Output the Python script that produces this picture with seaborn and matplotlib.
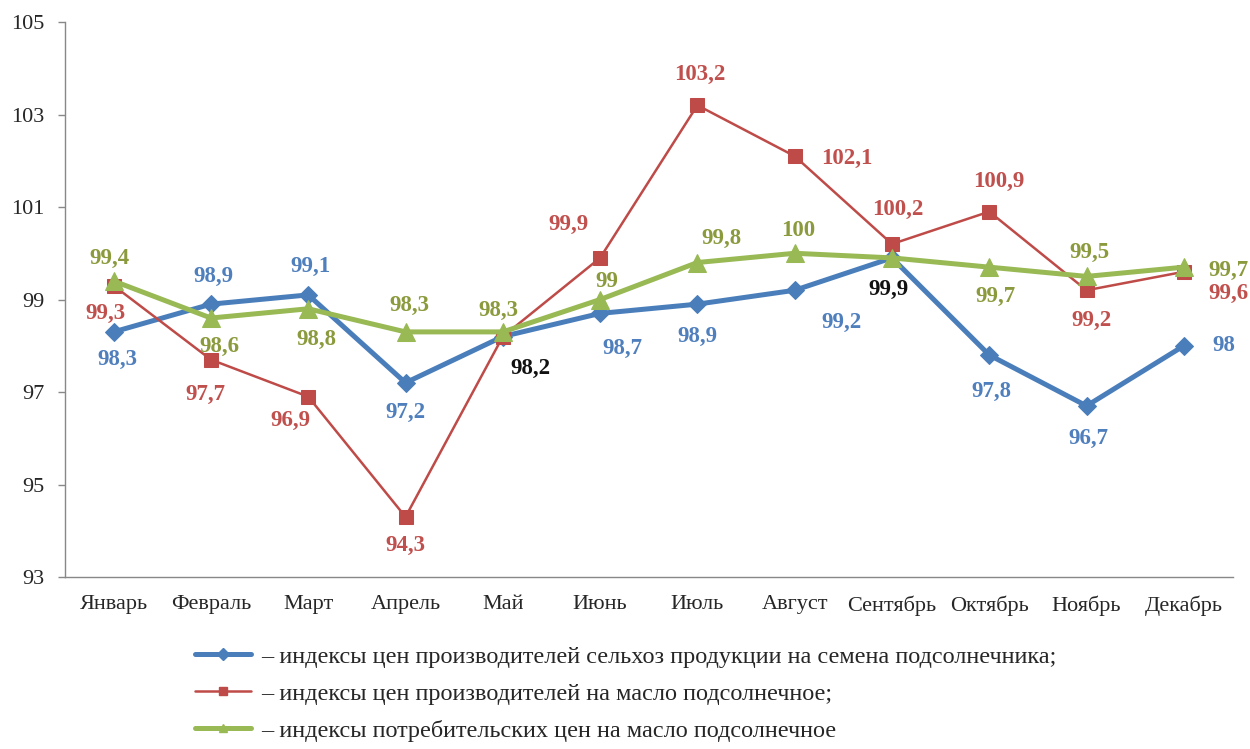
import numpy as np
import pandas as pd
import matplotlib
matplotlib.use("Agg")
import matplotlib.pyplot as plt
import seaborn as sns
from matplotlib.lines import Line2D

# data
months = ["Январь", "Февраль", "Март", "Апрель", "Май", "Июнь",
          "Июль", "Август", "Сентябрь", "Октябрь", "Ноябрь", "Декабрь"]
seeds = [98.3, 98.9, 99.1, 97.2, 98.2, 98.7, 98.9, 99.2, 99.9, 97.8, 96.7, 98.0]
oil_producer = [99.3, 97.7, 96.9, 94.3, 98.2, 99.9, 103.2, 102.1, 100.2, 100.9, 99.2, 99.6]
oil_consumer = [99.4, 98.6, 98.8, 98.3, 98.3, 99.0, 99.8, 100.0, 99.9, 99.7, 99.5, 99.7]
legend_labels = [
    "– индексы цен производителей сельхоз продукции на семена подсолнечника;",
    "– индексы цен производителей на масло подсолнечное;",
    "– индексы потребительских цен на масло подсолнечное",
]

# label offsets in pixels (None = no label), per series
seeds_off = [(4, -28), (2, 28), (2, 28), (0, -30), (28, -32), (22, -35),
             (0, -32), (47, -32), (-3, -32), (2, -36), (2, -33), (40, 0)]
prod_off = [(-8, -28), (-6, -35), (-18, -24), (0, -29), None, (-32, 33),
            (2, 31), (52, -2), (6, 35), (10, 30), (5, -30), (45, -22)]
cons_off = [(-4, 23), (8, -28), (8, -31), (4, 26), (-4, 21), (7, 18),
            (24, 24), (3, 23), None, (6, -29), (3, 24), (45, -3)]
black_labels = {(0, 4), (0, 8)}

series = [
    (seeds, "#4a7ebb", "#4f7fbc", "D", 9, 3.6, seeds_off),
    (oil_producer, "#be4b48", "#c0504d", "s", 9.5, 1.8, prod_off),
    (oil_consumer, "#98b954", "#8b9a3c", "^", 13, 3.6, cons_off),
]

sns.set_style("white")
plt.rcParams["font.family"] = ["Liberation Serif", "DejaVu Serif"]

fig = plt.figure(figsize=(12.5, 7.49), dpi=100)
ax = fig.add_axes([0.052, 0.2296, 0.934, 0.741])

x = np.arange(len(months))
handles = []
for si, (vals, lc, tc, mk, ms, lw, offs) in enumerate(series):
    df = pd.DataFrame({"x": x, "y": vals})
    sns.lineplot(data=df, x="x", y="y", ax=ax, color=lc, linewidth=lw,
                 marker=mk, markersize=ms, markeredgecolor=lc, sort=False)
    handles.append(Line2D([], [], color=lc, linewidth=lw, marker=mk,
                          markersize=6, markeredgecolor=lc))
    for i, v in enumerate(vals):
        off = offs[i]
        if off is None:
            continue
        col = "#111111" if (si, i) in black_labels else tc
        txt = f"{v:g}".replace(".", ",")
        ax.annotate(txt, (i, v), xytext=off, textcoords="offset pixels",
                    ha="center", va="center", fontsize=16.5,
                    fontweight="bold", color=col)

ax.set_xlim(-0.5, 11.5)
ax.set_ylim(93, 105)
ax.set_yticks(np.arange(93, 106, 2))
ax.set_xticks(x)
ax.set_xticklabels(months)
ax.set_xticks(np.arange(-0.5, 12, 1), minor=True)
ax.set_xlabel("")
ax.set_ylabel("")
ax.tick_params(axis="x", which="major", length=0, pad=13, labelsize=16)
ax.tick_params(axis="x", which="minor", length=7, color="#888888", width=1,
               direction="out")
ax.tick_params(axis="y", length=5, color="#888888", width=1, pad=10,
               labelsize=16, left=True)
for s in ["top", "right"]:
    ax.spines[s].set_visible(False)
for s in ["left", "bottom"]:
    ax.spines[s].set_color("#888888")
    ax.spines[s].set_linewidth(1)
ax.grid(False)

fig.legend(handles, legend_labels, loc="upper left",
           bbox_to_anchor=(185 / 1250, 1 - 636 / 749), frameon=False,
           fontsize=17.5, handlelength=2.3, handletextpad=0.45,
           labelspacing=0.62, borderaxespad=0)

fig.savefig("out.png", dpi=100)
